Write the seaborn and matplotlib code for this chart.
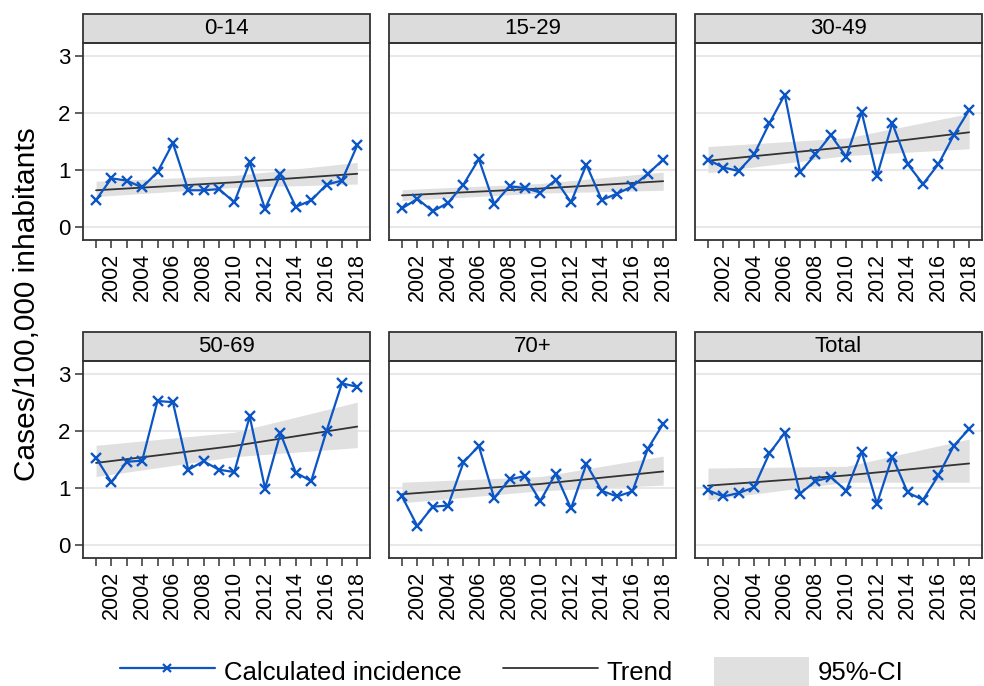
import numpy as np
import pandas as pd
import matplotlib
matplotlib.use("Agg")
import matplotlib.pyplot as plt
from matplotlib.lines import Line2D
from matplotlib.patches import Patch, Rectangle
import seaborn as sns

## data
years = list(range(2001, 2019))
groups = ["0-14", "15-29", "30-49", "50-69", "70+", "Total"]

inc_0_14 = [0.47, 0.85, 0.81, 0.69, 0.96, 1.47, 0.64, 0.64, 0.66, 0.43, 1.13, 0.31, 0.92, 0.35, 0.46, 0.74, 0.81, 1.43]
inc_15_29 = [0.32, 0.49, 0.27, 0.42, 0.74, 1.19, 0.40, 0.71, 0.68, 0.60, 0.82, 0.43, 1.09, 0.47, 0.58, 0.71, 0.93, 1.18]
inc_30_49 = [1.18, 1.04, 0.98, 1.27, 1.82, 2.32, 0.96, 1.27, 1.61, 1.23, 2.02, 0.89, 1.82, 1.10, 0.75, 1.10, 1.61, 2.05]
inc_50_69 = [1.53, 1.10, 1.46, 1.48, 2.53, 2.51, 1.32, 1.47, 1.32, 1.28, 2.26, 0.99, 1.96, 1.27, 1.12, 2.00, 2.84, 2.78]
inc_70 = [0.85, 0.33, 0.67, 0.69, 1.45, 1.74, 0.82, 1.15, 1.21, 0.77, 1.25, 0.64, 1.42, 0.95, 0.85, 0.94, 1.69, 2.13]
inc_total = [0.96, 0.85, 0.91, 1.01, 1.61, 1.97, 0.90, 1.12, 1.19, 0.95, 1.64, 0.72, 1.55, 0.92, 0.79, 1.22, 1.74, 2.04]

# trend and 95%-CI read at 2001, 2010 and 2018
trend_years = [2001, 2010, 2018]
trend = {
    "0-14": [0.64, 0.78, 0.93],
    "15-29": [0.55, 0.67, 0.80],
    "30-49": [1.16, 1.40, 1.66],
    "50-69": [1.44, 1.74, 2.08],
    "70+": [0.89, 1.07, 1.29],
    "Total": [1.04, 1.22, 1.43],
}
ci_low = {
    "0-14": [0.53, 0.69, 0.75],
    "15-29": [0.46, 0.59, 0.64],
    "30-49": [0.95, 1.25, 1.37],
    "50-69": [1.20, 1.55, 1.71],
    "70+": [0.74, 0.95, 1.05],
    "Total": [0.79, 1.10, 1.10],
}
ci_high = {
    "0-14": [0.80, 0.90, 1.13],
    "15-29": [0.65, 0.76, 0.96],
    "30-49": [1.41, 1.56, 1.99],
    "50-69": [1.75, 1.98, 2.51],
    "70+": [1.10, 1.20, 1.56],
    "Total": [1.35, 1.38, 1.86],
}

incidence = {"0-14": inc_0_14, "15-29": inc_15_29, "30-49": inc_30_49,
             "50-69": inc_50_69, "70+": inc_70, "Total": inc_total}

df = pd.DataFrame([(g, y, v) for g in groups for y, v in zip(years, incidence[g])],
                  columns=["group", "year", "incidence"])
df_trend = pd.DataFrame([(g, y, t, lo, hi) for g in groups
                         for y, t, lo, hi in zip(trend_years, trend[g], ci_low[g], ci_high[g])],
                        columns=["group", "year", "trend", "lo", "hi"])

sns.set_theme(style="white")
plt.rcParams["font.family"] = ["Liberation Sans", "DejaVu Sans"]
plt.rcParams["text.color"] = "black"
plt.rcParams["xtick.color"] = "black"
plt.rcParams["ytick.color"] = "black"

blue = "#0b55c4"
dark = "#333333"
ci_col = "#e0e0e0"

fig, axes = plt.subplots(2, 3, figsize=(9.84, 6.86), dpi=100, sharey=True)
fig.subplots_adjust(left=0.0845, right=0.998, top=0.937, bottom=0.187, wspace=0.066, hspace=0.62)

for ax, g in zip(axes.flat, groups):
    d = df[df["group"] == g]
    t = df_trend[df_trend["group"] == g]
    ax.fill_between(t["year"], t["lo"], t["hi"], color=ci_col, lw=0, zorder=1)
    sns.lineplot(data=t, x="year", y="trend", ax=ax, color=dark, lw=1.3, zorder=2)
    sns.lineplot(data=d, x="year", y="incidence", ax=ax, color=blue, lw=1.6,
                 marker="x", markersize=7.5, markeredgewidth=1.7, markeredgecolor=blue, zorder=3)
    ax.set_xlim(2000.16, 2018.84)
    ax.set_ylim(-0.228, 3.228)
    ax.set_yticks([0, 1, 2, 3])
    ax.set_xticks(years)
    ax.set_xticklabels([str(y) if y % 2 == 0 else "" for y in years], rotation=90)
    ax.yaxis.grid(True, color="#e8e8e8", lw=1.5)
    ax.set_axisbelow(True)
    for s in ax.spines.values():
        s.set_color(dark)
        s.set_linewidth(1.3)
    ax.tick_params(axis="both", which="both", length=6, width=1.1, color=dark,
                   labelsize=15.5, direction="out", bottom=True, left=True)
    ax.tick_params(axis="y", pad=3, labelsize=16)
    ax.set_xlabel("")
    ax.set_ylabel("")
    # strip on top of each panel
    strip = Rectangle((0, 1.0), 1, 0.148, transform=ax.transAxes, clip_on=False,
                      facecolor="#dcdcdc", edgecolor=dark, lw=1.3)
    ax.add_patch(strip)
    ax.text(0.5, 1.074, g, transform=ax.transAxes, ha="center", va="center", fontsize=16)

for ax in axes[:, 1:].flat:
    ax.tick_params(axis="y", left=False, labelleft=False)

fig.text(0.027, 0.556, "Cases/100,000 inhabitants", rotation=90, ha="center", va="center", fontsize=21.5)

handles = [
    Line2D([], [], color=blue, lw=1.6, marker="x", markersize=6, markeredgewidth=1.6),
    Line2D([], [], color=dark, lw=1.3),
    Patch(facecolor=ci_col, edgecolor="none"),
]
fig.legend(handles, ["Calculated incidence", "Trend", "95%-CI"], loc="center",
           bbox_to_anchor=(0.52, 0.021), ncol=3, frameon=False, fontsize=18.5,
           handlelength=3.7, handleheight=1.4, handletextpad=0.35, columnspacing=1.6)

fig.savefig("out.png", dpi=100)
